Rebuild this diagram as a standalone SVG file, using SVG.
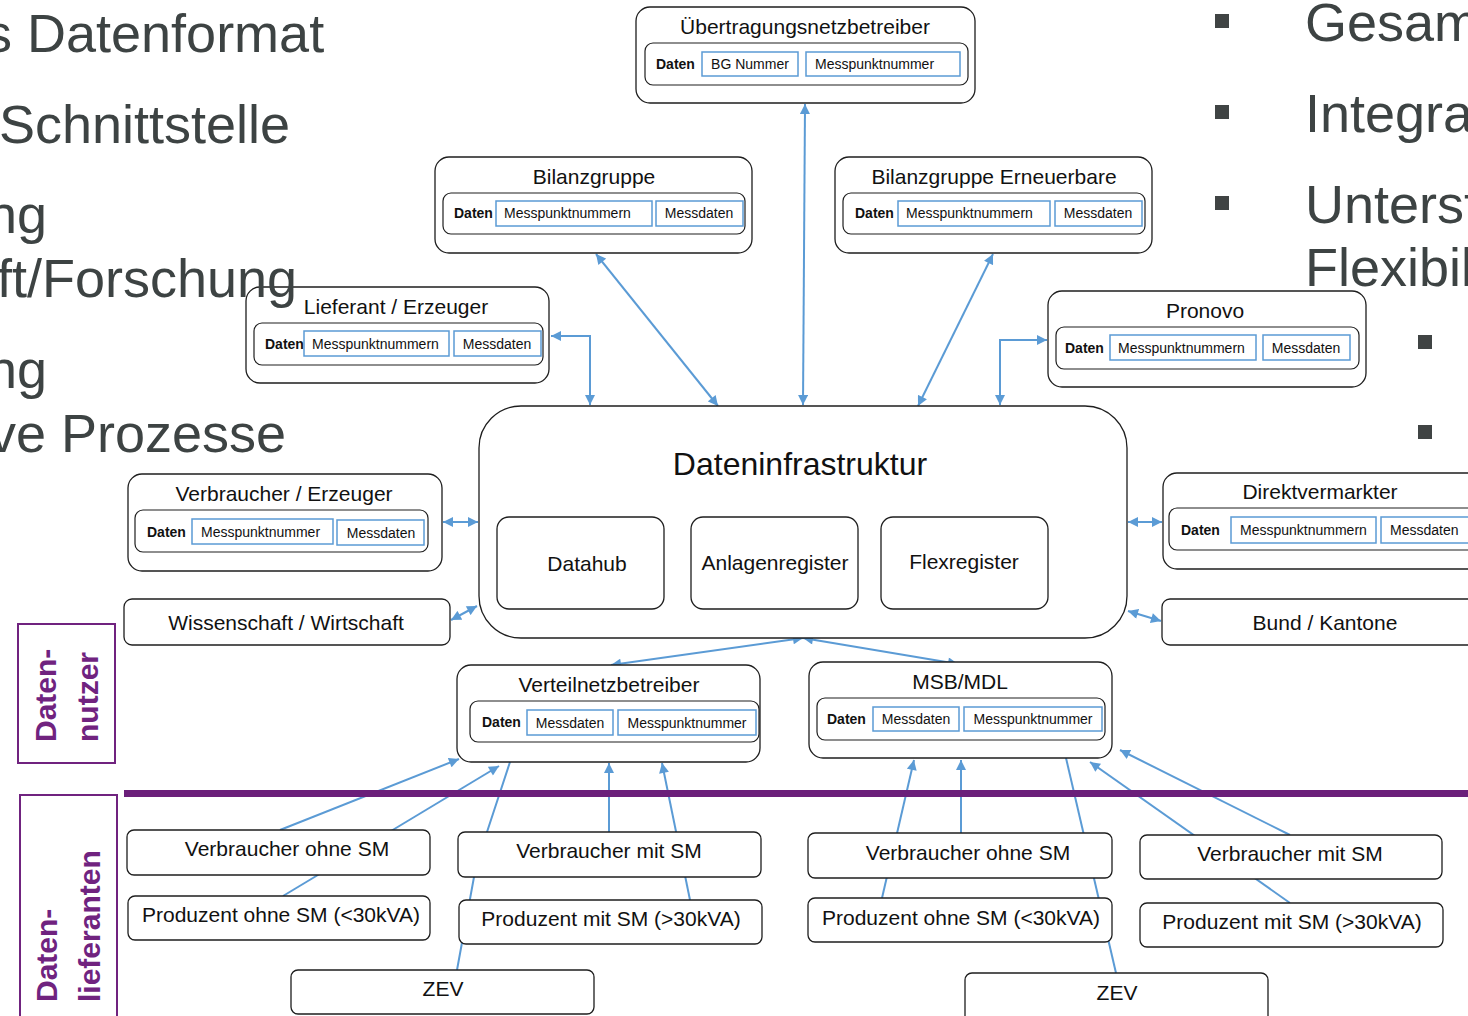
<svg xmlns="http://www.w3.org/2000/svg" width="1468" height="1016" viewBox="0 0 1468 1016">
<style>
.bg{font-family:"Liberation Sans",Arial,sans-serif;font-size:54px;fill:#3d4343}
.node{fill:#fff;stroke:#1e1e1e;stroke-width:1.3}
.inner{fill:#fff;stroke:#1e1e1e;stroke-width:1.2}
.field{fill:#fff;stroke:#5b9bd5;stroke-width:1.5}
.t{font-family:"Liberation Sans",Arial,sans-serif;font-size:21px;fill:#111}
.tc{text-anchor:middle}
.d{font-family:"Liberation Sans",Arial,sans-serif;font-size:14px;font-weight:bold;fill:#111}
.f{font-family:"Liberation Sans",Arial,sans-serif;font-size:14px;fill:#111}
.con{fill:none;stroke:#5b9bd5;stroke-width:2}
.lab{font-family:"Liberation Sans",Arial,sans-serif;font-size:30px;font-weight:bold;fill:#70237f}
.labbox{fill:#fff;stroke:#70237f;stroke-width:2}
</style>
<defs>
<marker id="ah" viewBox="0 0 10 10" refX="10" refY="5" markerWidth="11" markerHeight="10" orient="auto-start-reverse" markerUnits="userSpaceOnUse"><path d="M0,0 L10,5 L0,10 z" fill="#5b9bd5"/></marker>
</defs>
<rect width="1468" height="1016" fill="#fff"/>

<g id="connectors">
<line class="con" x1="805" y1="104" x2="803" y2="405" marker-start="url(#ah)" marker-end="url(#ah)"/>
<line class="con" x1="596" y1="254" x2="718" y2="406" marker-start="url(#ah)" marker-end="url(#ah)"/>
<line class="con" x1="993" y1="254" x2="918" y2="406" marker-start="url(#ah)" marker-end="url(#ah)"/>
<polyline class="con" points="551,336 590,336 590,405" marker-start="url(#ah)" marker-end="url(#ah)"/>
<polyline class="con" points="1047,340 1000,340 1000,405" marker-start="url(#ah)" marker-end="url(#ah)"/>
<line class="con" x1="443" y1="522" x2="478" y2="522" marker-start="url(#ah)" marker-end="url(#ah)"/>
<line class="con" x1="451" y1="620" x2="477" y2="606" marker-start="url(#ah)" marker-end="url(#ah)"/>
<line class="con" x1="1128" y1="522" x2="1162" y2="522" marker-start="url(#ah)" marker-end="url(#ah)"/>
<line class="con" x1="1128" y1="611" x2="1161" y2="621" marker-start="url(#ah)" marker-end="url(#ah)"/>
<line class="con" x1="803" y1="638" x2="611" y2="665" marker-start="url(#ah)" marker-end="url(#ah)"/>
<line class="con" x1="803" y1="638" x2="958" y2="664" marker-start="url(#ah)" marker-end="url(#ah)"/>
<line class="con" x1="280" y1="830" x2="459" y2="759" marker-end="url(#ah)"/>
<line class="con" x1="283" y1="896" x2="499" y2="766" marker-end="url(#ah)"/>
<polyline class="con" points="457,970 474,877 487,832 510,762"/>
<line class="con" x1="609" y1="832" x2="609" y2="763" marker-end="url(#ah)"/>
<line class="con" x1="690" y1="900" x2="662" y2="763" marker-end="url(#ah)"/>
<line class="con" x1="882" y1="898" x2="914" y2="760" marker-end="url(#ah)"/>
<line class="con" x1="961" y1="833" x2="961" y2="760" marker-end="url(#ah)"/>
<line class="con" x1="1116" y1="973" x2="1066" y2="758"/>
<line class="con" x1="1290" y1="903" x2="1090" y2="762" marker-end="url(#ah)"/>
<line class="con" x1="1290" y1="835" x2="1120" y2="750" marker-end="url(#ah)"/>
</g>

<g id="uenb">
<rect class="node" x="636" y="7" width="339" height="96" rx="14"/>
<text class="t tc" x="805" y="34">Übertragungsnetzbetreiber</text>
<rect class="inner" x="645" y="43" width="323" height="42" rx="8"/>
<text class="d" x="656" y="69">Daten</text>
<rect class="field" x="702" y="52" width="96" height="24"/>
<text class="f tc" x="750" y="69">BG Nummer</text>
<rect class="field" x="806" y="52" width="154" height="24"/>
<text class="f" x="815" y="69">Messpunktnummer</text>
</g>

<g id="bilanzgruppe">
<rect class="node" x="435" y="157" width="317" height="96" rx="14"/>
<text class="t tc" x="594" y="184">Bilanzgruppe</text>
<rect class="inner" x="443" y="193" width="302" height="41" rx="8"/>
<text class="d" x="454" y="218">Daten</text>
<rect class="field" x="496" y="201" width="156" height="25"/>
<text class="f" x="504" y="218">Messpunktnummern</text>
<rect class="field" x="656" y="201" width="87" height="25"/>
<text class="f tc" x="699" y="218">Messdaten</text>
</g>

<g id="bilanzgruppe-ee">
<rect class="node" x="835" y="157" width="317" height="96" rx="14"/>
<text class="t tc" x="994" y="184">Bilanzgruppe Erneuerbare</text>
<rect class="inner" x="843" y="193" width="302" height="41" rx="8"/>
<text class="d" x="855" y="218">Daten</text>
<rect class="field" x="898" y="201" width="152" height="25"/>
<text class="f" x="906" y="218">Messpunktnummern</text>
<rect class="field" x="1055" y="201" width="87" height="25"/>
<text class="f tc" x="1098" y="218">Messdaten</text>
</g>

<g id="lieferant">
<rect class="node" x="246" y="287" width="303" height="96" rx="14"/>
<text class="t tc" x="396" y="314">Lieferant / Erzeuger</text>
<rect class="inner" x="254" y="323" width="289" height="42" rx="8"/>
<text class="d" x="265" y="349">Daten</text>
<rect class="field" x="304" y="331" width="145" height="25"/>
<text class="f" x="312" y="349">Messpunktnummern</text>
<rect class="field" x="454" y="331" width="87" height="25"/>
<text class="f tc" x="497" y="349">Messdaten</text>
</g>

<g id="pronovo">
<rect class="node" x="1048" y="291" width="318" height="96" rx="14"/>
<text class="t tc" x="1205" y="318">Pronovo</text>
<rect class="inner" x="1056" y="327" width="303" height="42" rx="8"/>
<text class="d" x="1065" y="353">Daten</text>
<rect class="field" x="1110" y="335" width="146" height="25"/>
<text class="f" x="1118" y="353">Messpunktnummern</text>
<rect class="field" x="1263" y="335" width="87" height="25"/>
<text class="f tc" x="1306" y="353">Messdaten</text>
</g>

<g id="dateninfrastruktur">
<rect class="node" x="479" y="406" width="648" height="232" rx="42"/>
<text class="t tc" x="800" y="475" style="font-size:32px">Dateninfrastruktur</text>
<rect class="node" x="497" y="517" width="167" height="92" rx="12"/>
<text class="t tc" x="587" y="571">Datahub</text>
<rect class="node" x="691" y="517" width="167" height="92" rx="12"/>
<text class="t tc" x="775" y="570">Anlagenregister</text>
<rect class="node" x="881" y="517" width="167" height="92" rx="12"/>
<text class="t tc" x="964" y="569">Flexregister</text>
</g>

<g id="verbraucher-erzeuger">
<rect class="node" x="128" y="474" width="314" height="97" rx="14"/>
<text class="t tc" x="284" y="501">Verbraucher / Erzeuger</text>
<rect class="inner" x="135" y="510" width="293" height="42" rx="8"/>
<text class="d" x="147" y="537">Daten</text>
<rect class="field" x="192" y="519" width="141" height="25"/>
<text class="f" x="201" y="537">Messpunktnummer</text>
<rect class="field" x="337" y="520" width="87" height="25"/>
<text class="f tc" x="381" y="538">Messdaten</text>
</g>

<g id="wissenschaft">
<rect class="node" x="124" y="599" width="326" height="46" rx="8"/>
<text class="t tc" x="286" y="630">Wissenschaft / Wirtschaft</text>
</g>

<g id="direktvermarkter">
<rect class="node" x="1163" y="473" width="330" height="96" rx="14"/>
<text class="t tc" x="1320" y="499">Direktvermarkter</text>
<rect class="inner" x="1169" y="508" width="320" height="42" rx="8"/>
<text class="d" x="1181" y="535">Daten</text>
<rect class="field" x="1231" y="517" width="145" height="26"/>
<text class="f" x="1240" y="535">Messpunktnummern</text>
<rect class="field" x="1381" y="517" width="95" height="26"/>
<text class="f" x="1390" y="535">Messdaten</text>
</g>

<g id="bund">
<rect class="node" x="1162" y="599" width="330" height="46" rx="8"/>
<text class="t tc" x="1325" y="630">Bund / Kantone</text>
</g>

<g id="vnb">
<rect class="node" x="457" y="665" width="303" height="97" rx="14"/>
<text class="t tc" x="609" y="692">Verteilnetzbetreiber</text>
<rect class="inner" x="470" y="701" width="289" height="41" rx="8"/>
<text class="d" x="482" y="727">Daten</text>
<rect class="field" x="527" y="710" width="86" height="25"/>
<text class="f tc" x="570" y="728">Messdaten</text>
<rect class="field" x="618" y="710" width="138" height="25"/>
<text class="f tc" x="687" y="728">Messpunktnummer</text>
</g>

<g id="msb">
<rect class="node" x="809" y="662" width="303" height="96" rx="14"/>
<text class="t tc" x="960" y="689">MSB/MDL</text>
<rect class="inner" x="817" y="698" width="288" height="42" rx="8"/>
<text class="d" x="827" y="724">Daten</text>
<rect class="field" x="873" y="707" width="86" height="24"/>
<text class="f tc" x="916" y="724">Messdaten</text>
<rect class="field" x="964" y="707" width="138" height="24"/>
<text class="f tc" x="1033" y="724">Messpunktnummer</text>
</g>

<g id="l-verbraucher-ohne">
<rect class="node" x="127" y="830" width="303" height="45" rx="7"/>
<text class="t tc" x="287" y="856">Verbraucher ohne SM</text>
</g>
<g id="l-produzent-ohne">
<rect class="node" x="128" y="896" width="302" height="44" rx="7"/>
<text class="t tc" x="281" y="922">Produzent ohne SM (&lt;30kVA)</text>
</g>
<g id="l-verbraucher-mit">
<rect class="node" x="458" y="832" width="303" height="45" rx="7"/>
<text class="t tc" x="609" y="858">Verbraucher mit SM</text>
</g>
<g id="l-produzent-mit">
<rect class="node" x="459" y="900" width="303" height="44" rx="7"/>
<text class="t tc" x="611" y="926">Produzent mit SM (&gt;30kVA)</text>
</g>
<g id="l-zev">
<rect class="node" x="291" y="970" width="303" height="44" rx="7"/>
<text class="t tc" x="443" y="996">ZEV</text>
</g>
<g id="r-verbraucher-ohne">
<rect class="node" x="808" y="833" width="304" height="45" rx="7"/>
<text class="t tc" x="968" y="860">Verbraucher ohne SM</text>
</g>
<g id="r-produzent-ohne">
<rect class="node" x="808" y="898" width="304" height="44" rx="7"/>
<text class="t tc" x="961" y="925">Produzent ohne SM (&lt;30kVA)</text>
</g>
<g id="r-verbraucher-mit">
<rect class="node" x="1140" y="835" width="302" height="44" rx="7"/>
<text class="t tc" x="1290" y="861">Verbraucher mit SM</text>
</g>
<g id="r-produzent-mit">
<rect class="node" x="1140" y="903" width="303" height="44" rx="7"/>
<text class="t tc" x="1292" y="929">Produzent mit SM (&gt;30kVA)</text>
</g>
<g id="r-zev">
<rect class="node" x="965" y="973" width="303" height="50" rx="7"/>
<text class="t tc" x="1117" y="1000">ZEV</text>
</g>

<rect x="124" y="790" width="1344" height="7" fill="#6b1f7a"/>

<g id="datennutzer">
<rect class="labbox" x="18" y="624" width="97" height="139"/>
<text class="lab" transform="translate(56,742) rotate(-90)">Daten-</text>
<text class="lab" transform="translate(98,742) rotate(-90)">nutzer</text>
</g>
<g id="datenlieferanten">
<rect class="labbox" x="20" y="795" width="97" height="230"/>
<text class="lab" transform="translate(57,1002) rotate(-90)">Daten-</text>
<text class="lab" transform="translate(100,1002) rotate(-90)">lieferanten</text>
</g>

<g id="slide-text">
<text class="bg" x="-15" y="52">s Datenformat</text>
<text class="bg" x="-1" y="143">Schnittstelle</text>
<text class="bg" x="-13" y="233">ng</text>
<text class="bg" x="-3" y="297">ft/Forschung</text>
<text class="bg" x="-13" y="388">ng</text>
<text class="bg" x="-11" y="452">ve Prozesse</text>
<rect x="1215" y="14" width="14" height="14" fill="#404444"/>
<rect x="1215" y="105" width="14" height="14" fill="#404444"/>
<rect x="1215" y="196" width="14" height="14" fill="#404444"/>
<rect x="1418" y="335" width="14" height="14" fill="#404444"/>
<rect x="1418" y="425" width="14" height="14" fill="#404444"/>
<text class="bg" x="1305" y="41">Gesam</text>
<text class="bg" x="1305" y="132">Integra</text>
<text class="bg" x="1305" y="223">Unterst</text>
<text class="bg" x="1305" y="286">Flexibil</text>
</g>
</svg>
